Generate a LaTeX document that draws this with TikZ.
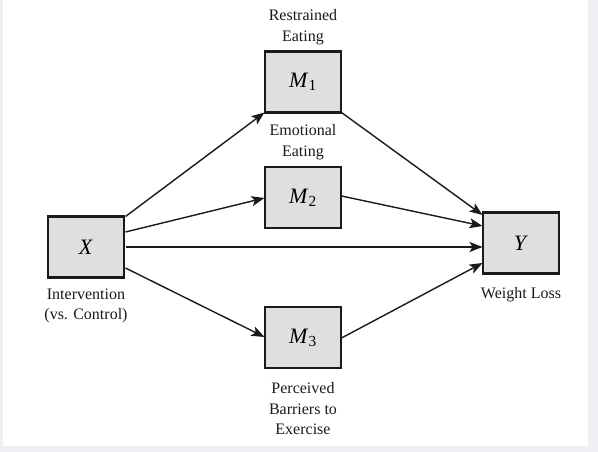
\documentclass[tikz,border=0pt]{standalone}
\usepackage{fontspec}
\setmainfont{Liberation Serif}
\usetikzlibrary{arrows.meta}
\definecolor{boxfill}{HTML}{DFDFDF}
\definecolor{edgegray}{HTML}{EFF0F3}
\definecolor{ink}{HTML}{1A1A1A}
\tikzset{
  var/.style={draw=ink, line width=2.2pt, fill=boxfill, minimum width=76pt, minimum height=61pt, inner sep=0pt, font=\fontsize{22}{24}\selectfont},
  lbl/.style={align=center, font=\fontsize{16}{20.5}\selectfont, text=ink, inner sep=0pt},
  conn/.style={draw=ink, line width=1.4pt, -{Stealth[length=13pt,width=10pt,inset=3pt]}}
}
\begin{document}
\begin{tikzpicture}[x=1pt,y=-1pt]
\fill[edgegray] (0,0) rectangle (598,452);
\fill[white] (3,0) rectangle (588,446);
\useasboundingbox (0,0) rectangle (598,452);
\node[var] (m1) at (303,82) {\textit{M}\textsubscript{1}};
\node[var] (m2) at (303,197.5) {\textit{M}\textsubscript{2}};
\node[var] (m3) at (303,337.5) {\textit{M}\textsubscript{3}};
\node[var] (x) at (86,247) {\textit{X}};
\node[var] (y) at (521,243) {\textit{Y}};
\node[lbl] (l1) at (303,27) {Restrained\\Eating};
\node[lbl] (l2) at (303,142) {Emotional\\Eating};
\node[lbl] (l3) at (303,409) {Perceived\\Barriers to\\Exercise};
\node[lbl] (lx) at (86,306) {Intervention\\(vs. Control)};
\node[lbl] (ly) at (521,295) {Weight Loss};
\coordinate (xa) at (125.5,216.5);
\coordinate (xb) at (125.5,232);
\coordinate (xc) at (125.5,247);
\coordinate (xd) at (125.5,268);
\coordinate (m1a) at (264.5,112.5);
\coordinate (m2a) at (264.5,198);
\coordinate (m3a) at (264.5,337);
\coordinate (m1b) at (341.5,112.5);
\coordinate (m2b) at (341.5,196);
\coordinate (m3b) at (341.5,338);
\coordinate (ya) at (482.5,215);
\coordinate (yb) at (482.5,226);
\coordinate (yc) at (482.5,247);
\coordinate (yd) at (482.5,263);
\draw[conn] (xa) -- (m1a);
\draw[conn] (xb) -- (m2a);
\draw[conn] (xc) -- (yc);
\draw[conn] (xd) -- (m3a);
\draw[conn] (m1b) -- (ya);
\draw[conn] (m2b) -- (yb);
\draw[conn] (m3b) -- (yd);
\end{tikzpicture}
\end{document}
